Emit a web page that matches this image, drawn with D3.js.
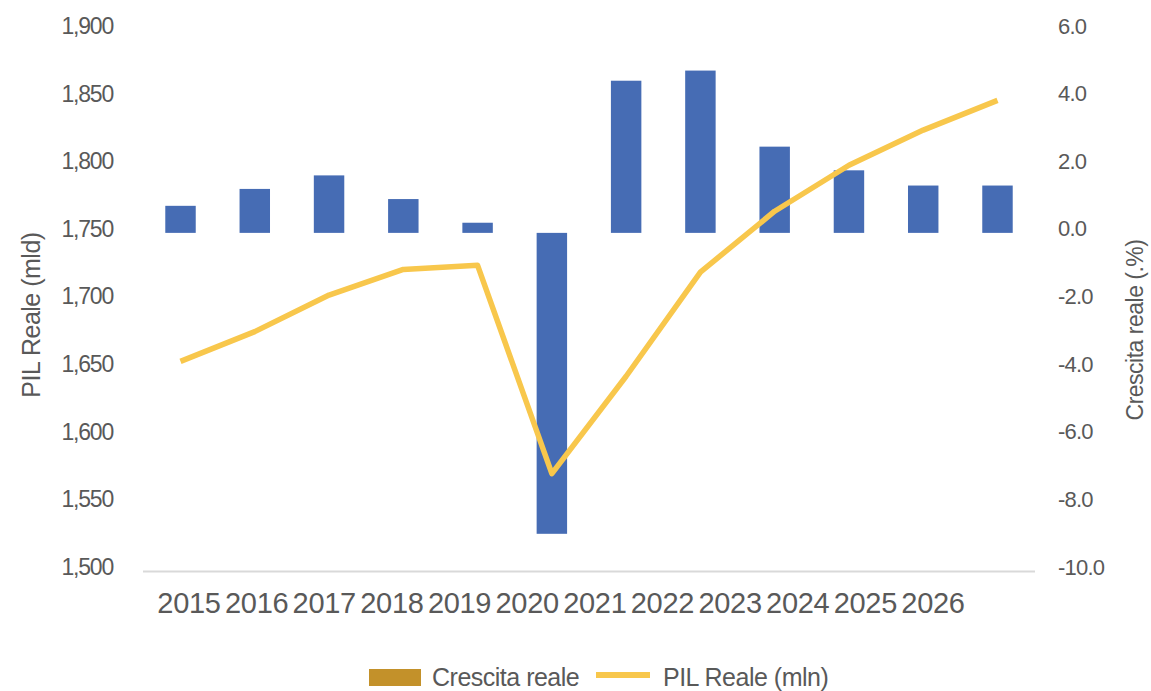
<!DOCTYPE html>
<html>
<head>
<meta charset="utf-8">
<script src="https://cdn.jsdelivr.net/npm/d3@7"></script>
<style>
    body { margin: 0; background: #fff; }
    text { font-family: "Liberation Sans", Arial, sans-serif; fill: #595959; }
</style>
</head>
<body>
<svg id="chart" width="1151" height="691"></svg>
<script>
const years = ["2015", "2016", "2017", "2018", "2019", "2020", "2021", "2022", "2023", "2024", "2025", "2026"];
const crescita = [0.8, 1.3, 1.7, 1.0, 0.3, -8.9, 4.5, 4.8, 2.55, 1.85, 1.4, 1.4];
const pil = [1655, 1677, 1704, 1723, 1726, 1572, 1644, 1721, 1766, 1800, 1826, 1848];
const leftTicks = [1500, 1550, 1600, 1650, 1700, 1750, 1800, 1850, 1900];
const rightTicks = [-10, -8, -6, -4, -2, 0, 2, 4, 6];

const svgSpace = d3.select("#chart");

const x = d3.scaleBand().domain(years).range([143, 1035]).paddingInner(0.59).paddingOuter(0.3);
// le etichette dell'asse x non sono allineate alle barre nell'originale
const xLab = d3.scalePoint().domain(years).range([189, 933]);
const yL = d3.scaleLinear().domain([1500, 1900]).range([571, 30]);
const yR = d3.scaleLinear().domain([-10, 6]).range([571, 30]);

// barre crescita
svgSpace.append("g")
    .selectAll("rect")
    .data(years)
    .enter()
    .append("rect")
    .attr("x", (d) => x(d))
    .attr("width", x.bandwidth())
    .attr("y", (d, i) => yR(Math.max(0, crescita[i])))
    .attr("height", (d, i) => Math.abs(yR(crescita[i]) - yR(0)))
    .attr("fill", "#466CB4");

// linea di base
svgSpace.append("line")
    .attr("x1", 143).attr("x2", 1035)
    .attr("y1", 571.5).attr("y2", 571.5)
    .attr("stroke", "#D9D9D9")
    .attr("stroke-width", 2);

// linea PIL
const line = d3.line()
    .x((d, i) => x(years[i]) + x.bandwidth() / 2)
    .y((d) => yL(d));

svgSpace.append("path")
    .datum(pil)
    .attr("d", line)
    .attr("fill", "none")
    .attr("stroke", "#F8C74C")
    .attr("stroke-width", 5.5)
    .attr("stroke-linejoin", "round");

// asse sinistro
const axL = svgSpace.append("g")
    .attr("transform", "translate(113,-4)")
    .call(d3.axisLeft(yL).tickValues(leftTicks).tickSize(0).tickPadding(0).tickFormat(d3.format(",")));
axL.select(".domain").remove();
axL.selectAll("text")
    .style("font-size", "23px")
    .style("letter-spacing", "-1.2px")
    .style("font-family", "'Liberation Sans', Arial, sans-serif")
    .attr("fill", "#595959");

// asse destro
const axR = svgSpace.append("g")
    .attr("transform", "translate(1058,-4)")
    .call(d3.axisRight(yR).tickValues(rightTicks).tickSize(0).tickPadding(0).tickFormat(d3.format(".1f")));
axR.select(".domain").remove();
axR.selectAll("text")
    .text((d) => d3.format(".1f")(d).replace("−", "-"))
    .style("font-size", "22px")
    .style("letter-spacing", "-0.8px")
    .style("font-family", "'Liberation Sans', Arial, sans-serif")
    .attr("fill", "#595959");

// asse x
svgSpace.append("g")
    .selectAll("text")
    .data(years)
    .enter()
    .append("text")
    .text((d) => d)
    .attr("x", (d) => xLab(d))
    .attr("y", 613)
    .style("text-anchor", "middle")
    .style("font-size", "29px")
    .style("letter-spacing", "-0.3px");

// titoli assi
svgSpace.append("text")
    .text("PIL Reale (mld)")
    .attr("transform", "translate(40,315) rotate(-90)")
    .style("text-anchor", "middle")
    .style("font-size", "25px")
    .style("letter-spacing", "-0.5px");

svgSpace.append("text")
    .text("Crescita reale (.%)")
    .attr("transform", "translate(1143,330) rotate(-90)")
    .style("text-anchor", "middle")
    .style("font-size", "23px")
    .style("letter-spacing", "-0.5px");

// legenda
svgSpace.append("rect")
    .attr("x", 369).attr("y", 669)
    .attr("width", 52).attr("height", 17)
    .attr("fill", "#C3912A");

svgSpace.append("text")
    .text("Crescita reale")
    .attr("x", 432).attr("y", 686)
    .style("font-size", "25px")
    .style("letter-spacing", "-0.5px");

svgSpace.append("line")
    .attr("x1", 596).attr("x2", 650)
    .attr("y1", 675).attr("y2", 675)
    .attr("stroke", "#F8C74C")
    .attr("stroke-width", 6);

svgSpace.append("text")
    .text("PIL Reale (mln)")
    .attr("x", 663).attr("y", 686)
    .style("font-size", "25px")
    .style("letter-spacing", "-0.5px");
</script>
</body>
</html>
